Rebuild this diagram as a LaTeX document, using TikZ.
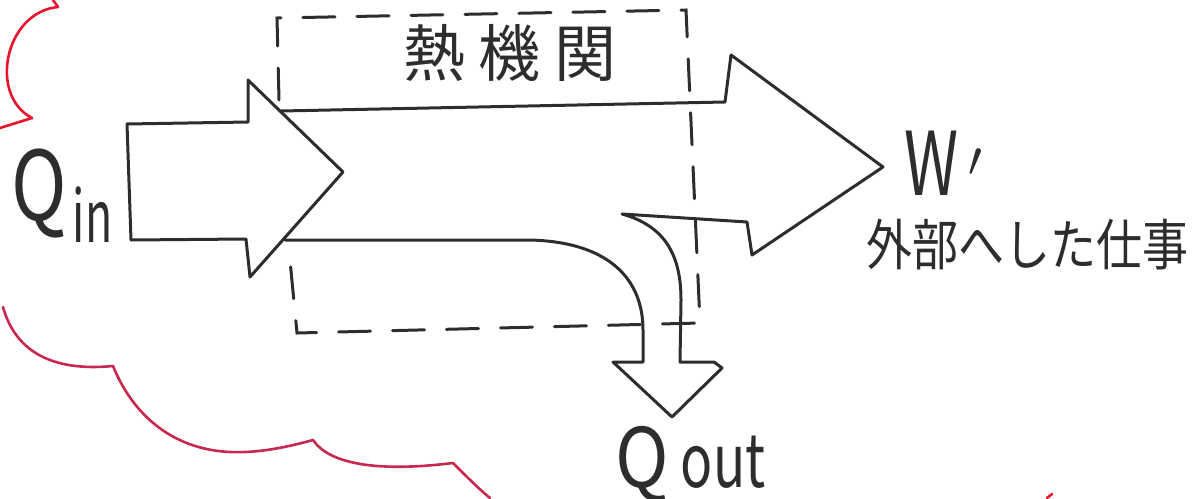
\documentclass[tikz,border=0pt]{standalone}
\usepackage{fontspec}
\usepackage{graphicx}
\setmainfont{Noto Sans CJK JP}
\definecolor{inkc}{RGB}{45,45,45}
\definecolor{cloudtop}{RGB}{232,20,45}
\definecolor{cloudbot}{RGB}{200,40,78}
\begin{document}
\begin{tikzpicture}[x=0.5pt,y=-0.5pt,
  ink/.style={draw=inkc, line width=1.5pt, line join=round, line cap=round},
  dashline/.style={draw=inkc, line width=1.5pt, line cap=round, dash pattern=on 16pt off 11pt},
  cloudline/.style={line width=1.3pt, line cap=round, line join=round},
  lbl/.style={text=inkc, inner sep=0pt}]
\useasboundingbox (0,0) rectangle (1192,498);

% red cloud outline
\draw[cloudline, draw=cloudtop] (53,0) -- (58,7) .. controls (5,12) and (-12,95) .. (32,118) -- (0,128);
\draw[cloudline, draw=cloudbot] (3,307) .. controls (15,350) and (50,372) .. (113,366)
  .. controls (135,420) and (180,455) .. (245,452)
  .. controls (270,451) and (295,445) .. (313,440)
  .. controls (330,465) and (380,472) .. (453,463)
  .. controls (465,475) and (480,490) .. (490,498);
\draw[cloudline, draw=cloudtop] (1047,498) -- (1052,494);

% dashed boundary of the heat engine
\coordinate (b1) at (279,100);
\coordinate (b2) at (277,18);
\coordinate (b3) at (686,10);
\coordinate (b4) at (700,323);
\coordinate (b5) at (297,333);
\coordinate (b6) at (289,250);
\draw[dashline] (b1) -- (b2) -- (b3) -- (b4) -- (b5) -- (b6);

% Q_in arrow
\draw[ink] (127,124) -- (248,122) -- (248,80) -- (343,172) -- (250,277) -- (246,239) -- (131,240) -- cycle;

% W' arrow with Q_out branch
\draw[ink] (281,111) -- (725,102) -- (731,55) -- (883,167) -- (752,255) -- (747,222) -- (622,214)
  .. controls (665,226) and (681,255) .. (681,300) -- (680,362) -- (714,362) -- (722,368)
  -- (672,417) -- (613,362) -- (643,362) -- (643,330)
  .. controls (643,280) and (610,242) .. (530,240) -- (285,240);

% labels
\node[lbl, font=\fontsize{31}{31}\selectfont] (title) at (510,53) {熱\hspace{7pt}機\hspace{7pt}関};
\node[lbl, anchor=base west, font=\fontsize{48}{48}\selectfont] (qin) at (11,220)
  {\scalebox{0.78}[1]{Q}\hspace{3pt}\raisebox{-11pt}{\fontsize{36}{36}\selectfont\scalebox{0.62}[1]{in}}};
\node[lbl, anchor=base west, font=\fontsize{41}{41}\selectfont] (qout) at (615,487)
  {\scalebox{0.88}[1]{Q}\hspace{6pt}{\fontsize{37}{37}\selectfont\scalebox{0.72}[1]{out}}};
\node[lbl, anchor=base west, font=\fontsize{44}{44}\selectfont] (w) at (904,195)
  {\scalebox{0.7}[1]{W}\hspace{5pt}$'$};
\node[lbl, font=\fontsize{23}{23}\selectfont] (work) at (1027,245) {\scalebox{1}[1.2]{外部へした仕事}};
\end{tikzpicture}
\end{document}
